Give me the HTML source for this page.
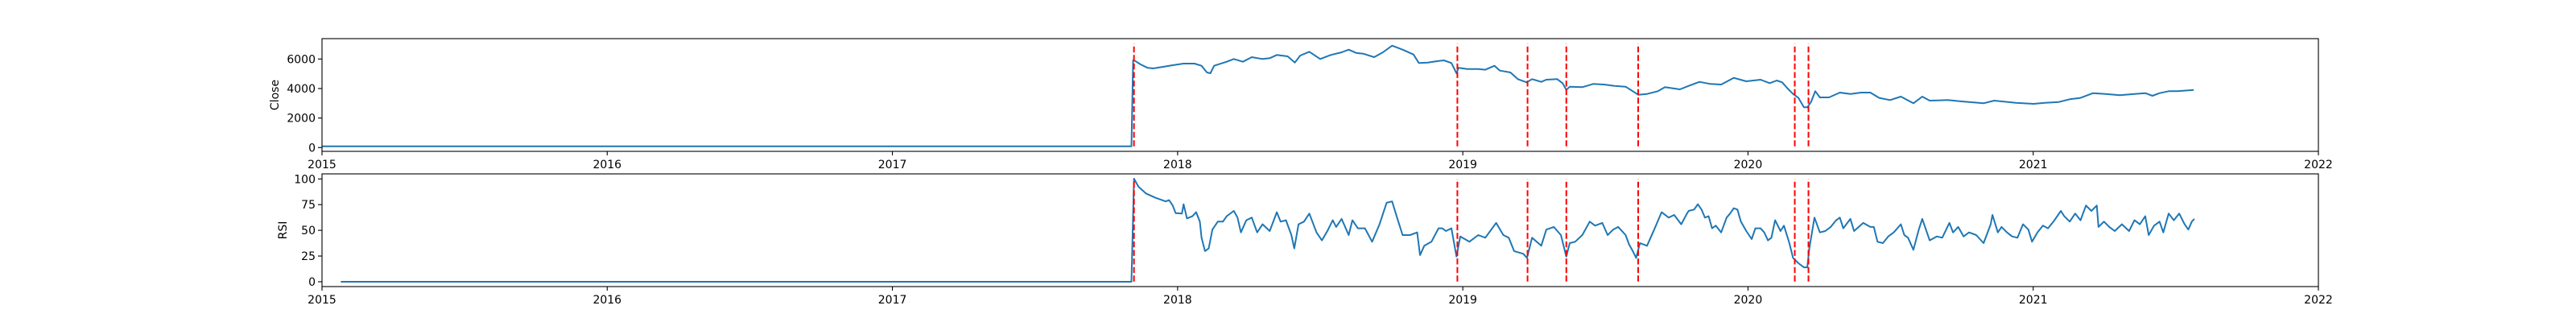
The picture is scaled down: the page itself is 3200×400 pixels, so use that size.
<!DOCTYPE html>
<html><head><meta charset="utf-8"><style>
html,body{margin:0;padding:0;background:#fff;}
svg{display:block;font-family:"DejaVu Sans","Liberation Sans",sans-serif;}
</style></head><body>
<svg id="chart" width="3200" height="400" xmlns="http://www.w3.org/2000/svg"></svg>
<script>
const closeT=[2015.0,2017.838,2017.844,2017.851,2017.870,2017.895,2017.914,2017.945,2017.983,2018.021,2018.059,2018.084,2018.103,2018.115,2018.128,2018.172,2018.197,2018.229,2018.260,2018.298,2018.323,2018.348,2018.386,2018.411,2018.430,2018.462,2018.500,2018.537,2018.575,2018.600,2018.626,2018.651,2018.689,2018.720,2018.752,2018.789,2018.827,2018.846,2018.878,2018.915,2018.934,2018.960,2018.978,2018.985,2019.016,2019.054,2019.079,2019.111,2019.130,2019.167,2019.193,2019.224,2019.243,2019.275,2019.293,2019.331,2019.350,2019.363,2019.375,2019.419,2019.457,2019.495,2019.533,2019.571,2019.596,2019.615,2019.646,2019.684,2019.709,2019.761,2019.792,2019.830,2019.868,2019.906,2019.950,2019.994,2020.044,2020.076,2020.101,2020.120,2020.139,2020.158,2020.177,2020.196,2020.208,2020.221,2020.236,2020.252,2020.284,2020.322,2020.359,2020.397,2020.429,2020.460,2020.498,2020.536,2020.580,2020.611,2020.637,2020.700,2020.750,2020.826,2020.863,2020.939,2021.002,2021.040,2021.090,2021.128,2021.166,2021.210,2021.254,2021.304,2021.355,2021.393,2021.418,2021.443,2021.475,2021.506,2021.544,2021.563];
const closeV=[90,90,5908,5871,5635,5399,5362,5453,5581,5690,5690,5544,5090,5035,5544,5817,5999,5817,6126,5999,6053,6271,6180,5762,6235,6490,5999,6271,6453,6635,6417,6362,6126,6453,6908,6635,6308,5726,5762,5871,5908,5726,5035,5399,5326,5326,5272,5544,5217,5090,4635,4417,4635,4453,4599,4635,4363,3908,4126,4090,4308,4272,4181,4126,3817,3581,3635,3817,4090,3944,4181,4453,4308,4272,4726,4490,4599,4363,4544,4417,3999,3635,3363,2726,2726,3090,3817,3399,3399,3726,3635,3726,3726,3363,3217,3454,3000,3454,3181,3217,3126,3000,3181,3035,2963,3035,3090,3272,3363,3690,3635,3544,3635,3690,3508,3690,3817,3817,3872,3908];
const rsiT=[2015.066,2017.838,2017.847,2017.863,2017.889,2017.920,2017.958,2017.970,2017.983,2017.993,2018.015,2018.021,2018.033,2018.052,2018.065,2018.078,2018.084,2018.096,2018.109,2018.122,2018.141,2018.159,2018.172,2018.197,2018.210,2018.222,2018.241,2018.260,2018.279,2018.298,2018.323,2018.348,2018.361,2018.380,2018.399,2018.409,2018.424,2018.443,2018.462,2018.487,2018.506,2018.525,2018.544,2018.556,2018.575,2018.600,2018.613,2018.632,2018.657,2018.682,2018.708,2018.733,2018.752,2018.771,2018.789,2018.815,2018.840,2018.850,2018.865,2018.890,2018.915,2018.928,2018.941,2018.960,2018.978,2018.991,2019.023,2019.054,2019.079,2019.117,2019.142,2019.161,2019.180,2019.212,2019.225,2019.243,2019.275,2019.293,2019.319,2019.344,2019.363,2019.375,2019.394,2019.419,2019.445,2019.464,2019.489,2019.508,2019.527,2019.545,2019.571,2019.583,2019.596,2019.608,2019.621,2019.646,2019.671,2019.697,2019.722,2019.741,2019.766,2019.786,2019.792,2019.811,2019.824,2019.837,2019.849,2019.862,2019.874,2019.887,2019.906,2019.925,2019.937,2019.950,2019.963,2019.975,2019.994,2020.013,2020.026,2020.044,2020.057,2020.070,2020.082,2020.095,2020.114,2020.126,2020.145,2020.158,2020.177,2020.196,2020.208,2020.215,2020.233,2020.252,2020.271,2020.290,2020.309,2020.322,2020.334,2020.359,2020.372,2020.404,2020.429,2020.441,2020.454,2020.473,2020.492,2020.511,2020.536,2020.548,2020.561,2020.580,2020.599,2020.611,2020.637,2020.662,2020.681,2020.706,2020.719,2020.737,2020.756,2020.775,2020.800,2020.826,2020.851,2020.857,2020.876,2020.889,2020.908,2020.926,2020.945,2020.964,2020.983,2020.996,2021.015,2021.034,2021.052,2021.071,2021.097,2021.109,2021.128,2021.147,2021.166,2021.185,2021.204,2021.223,2021.229,2021.248,2021.267,2021.286,2021.311,2021.336,2021.355,2021.374,2021.393,2021.405,2021.424,2021.443,2021.456,2021.475,2021.493,2021.512,2021.531,2021.544,2021.556,2021.565];
const rsiV=[0,0,100.2,92.4,85.9,82,78.1,79.4,74.1,66.8,66.3,75.4,61.6,63.7,67.6,58.5,42.8,29.8,32.4,50.7,58.5,58.5,63.7,68.9,62.4,48.0,59.8,62.4,48.0,55.9,49.3,67.6,58.5,59.8,45.4,32.4,55.9,58.5,66.3,48.0,40.2,49.3,59.8,53.3,61.1,45.4,59.8,52.0,52.0,38.9,55.9,76.8,78.1,61.1,45.4,45.4,48.0,25.9,35.0,38.9,52.0,52.0,49.3,52.0,24.5,44.1,38.9,45.4,42.8,57.2,45.4,42.8,29.8,27.2,23.2,42.8,35.0,50.7,53.3,45.4,24.5,37.6,38.9,45.4,58.5,54.6,57.2,45.4,50.7,53.3,45.4,36.3,29.8,23.2,37.6,35.0,50.7,67.6,62.4,65.0,55.9,66.3,68.9,70.2,75.4,70.2,62.4,63.7,52.0,54.6,48.0,62.4,66.3,71.5,70.2,58.5,49.3,41.5,52.0,52.0,48.0,40.2,42.8,59.8,49.3,54.6,37.6,23.2,18.0,14.0,14.0,32.4,62.4,48.0,49.3,53.3,59.8,62.4,52.0,61.1,49.3,57.2,53.3,53.3,38.9,37.6,44.1,48.0,55.9,45.4,42.8,31.1,50.7,61.1,40.2,44.1,42.8,57.2,48.0,53.3,44.1,48.0,45.4,37.6,55.9,65.0,48.0,53.3,48.0,44.1,42.8,55.9,50.7,38.9,48.0,54.6,52.0,58.5,68.9,63.7,58.5,66.3,59.8,74.1,68.9,74.1,53.3,58.5,53.3,49.3,55.9,49.3,59.8,55.9,63.7,45.4,54.6,58.5,48.0,66.3,59.8,66.3,55.9,50.7,58.5,61.1];
const eventT=[2017.847,2018.981,2019.227,2019.363,2019.615,2020.164,2020.212];
const xTicks=[2015,2016,2017,2018,2019,2020,2021,2022];
const closeTicks=[0,2000,4000,6000];
const rsiTicks=[0,25,50,75,100];

const NS="http://www.w3.org/2000/svg";
const svg=document.getElementById('chart');
function mk(tag,attrs,parent){const e=document.createElementNS(NS,tag);for(const k in attrs)e.setAttribute(k,attrs[k]);(parent||svg).appendChild(e);return e;}
const X0=400,X1=2880;
const xs=t=>X0+(t-2015)/7*(X1-X0);
const panels=[
 {top:48,bot:188,min:-256,max:7380,T:closeT,V:closeV,ticks:closeTicks,label:'Close',name:'close'},
 {top:216,bot:356,min:-4.7,max:104.9,T:rsiT,V:rsiV,ticks:rsiTicks,label:'RSI',name:'rsi'}
];
panels.forEach(p=>{
 const ys=v=>p.bot-(v-p.min)/(p.max-p.min)*(p.bot-p.top);
 const g=mk('g',{});
 
 
 let d='';
 p.T.forEach((t,i)=>{d+=(i?'L':'M')+xs(t).toFixed(1)+' '+ys(p.V[i]).toFixed(1);});
 const ln=mk('path',{d:d,fill:'none',stroke:'#1f77b4','stroke-width':2,'stroke-linejoin':'round'},g);
 
 
 eventT.forEach(t=>{
  const l=mk('line',{x1:xs(t),x2:xs(t),y1:ys(p.min+(p.max-p.min)*0.045),y2:ys(p.max-(p.max-p.min)*0.045),stroke:'#ff0000','stroke-width':2,'stroke-dasharray':'7.4,3.2'},g);
  
  
 });
 const fr=mk('rect',{x:X0,y:p.top,width:X1-X0,height:p.bot-p.top,fill:'none',stroke:'#000','stroke-width':1.1},g);
 
 
 p.ticks.forEach(v=>{
  mk('line',{x1:X0-5,x2:X0,y1:ys(v),y2:ys(v),stroke:'#000','stroke-width':1.1},g);
  const tx=mk('text',{x:X0-8,y:ys(v)+5,'text-anchor':'end','font-size':14,fill:'#000'},g);
  tx.textContent=v;
  
  
 });
 xTicks.forEach(v=>{
  mk('line',{x1:xs(v),x2:xs(v),y1:p.bot,y2:p.bot+5,stroke:'#000','stroke-width':1.1},g);
  const tx=mk('text',{x:xs(v),y:p.bot+21,'text-anchor':'middle','font-size':14,fill:'#000'},g);
  tx.textContent=v;
  
  
 });
 const yl=X0-(p.name==='close'?54:44);
 const ym=(p.top+p.bot)/2;
 const lab=mk('text',{x:yl,y:ym,'text-anchor':'middle','font-size':14,fill:'#000',transform:'rotate(-90 '+yl+' '+ym+')'},g);
 lab.textContent=p.label;
 
 
});
</script>
</body></html>
